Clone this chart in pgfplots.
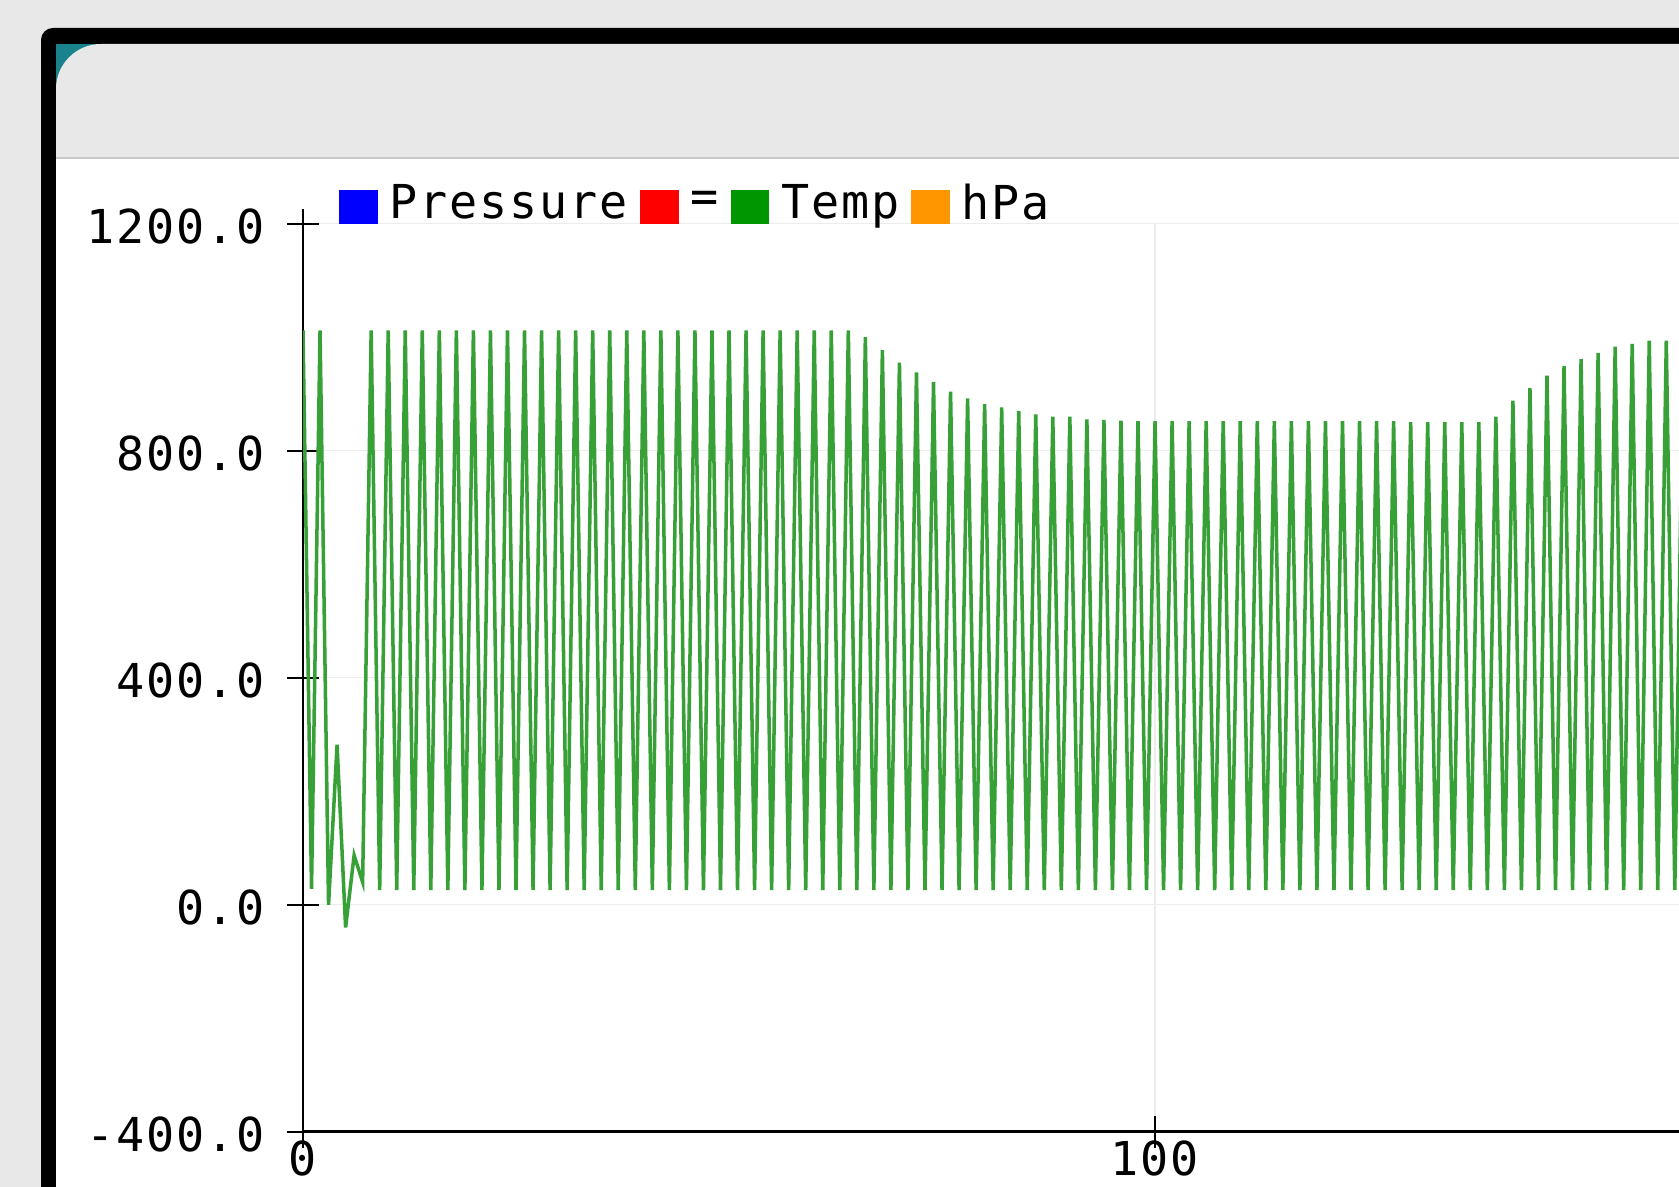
\documentclass[border=0pt]{standalone}
\usepackage{pgfplots}
\pgfplotsset{compat=1.18}
\usepackage{fontspec}
\newfontfamily\monofont[LetterSpace=4]{DejaVu Sans Mono}
\newcommand\plotfont{\monofont\fontsize{13.3}{13.3}\selectfont}

\definecolor{bggray}{RGB}{232,232,232}
\definecolor{barline}{RGB}{200,200,200}
\definecolor{cornerteal}{RGB}{25,130,140}
\definecolor{gridgray}{RGB}{236,236,236}
\definecolor{tempgreen}{RGB}{55,160,55}
\definecolor{legblue}{RGB}{0,0,255}
\definecolor{legred}{RGB}{255,0,0}
\definecolor{leggreen}{RGB}{0,150,0}
\definecolor{legorange}{RGB}{255,150,0}

\begin{document}
\begin{tikzpicture}
\useasboundingbox (0,0) rectangle (16.79,11.87);
% window around the plotter
\fill[bggray] (0,0) rectangle (16.79,11.87);
\fill[black, rounded corners=0.12cm] (0.41,-0.5) -- (0.41,11.59) -- (17.5,11.59) -- (17.5,-0.5) -- cycle;
\fill[cornerteal] (0.56,11.43) rectangle (1.2,10.9);
\fill[bggray] (0.56,10.28) [rounded corners=0.45cm] -- (0.56,11.43) [sharp corners] -- (17.5,11.43) -- (17.5,10.28) -- cycle;
\fill[white] (0.56,-0.5) rectangle (17.5,10.28);
\draw[barline, line width=0.5pt] (0.56,10.29) -- (17.5,10.29);

\begin{axis}[
  at={(3.03cm,0.552cm)}, anchor=south west,
  x=0.0852cm, y=0.00568cm,
  xmin=0, xmax=161.5, ymin=-400, ymax=1200,
  axis x line=bottom, axis y line=left,
  axis line style={-, black, line width=0.8pt},
  y axis line style={shorten >=-0.15cm},
  xtick={0,100}, xticklabels={0,100},
  ytick={-400,0,400,800,1200},
  yticklabels={-400.0,0.0,400.0,800.0,1200.0},
  tick align=center, major tick length=0.32cm,
  tick style={black, line width=0.6pt},
  grid=major, grid style={gridgray, line width=0.4pt},
  ticklabel style={font=\plotfont},
  yticklabel style={xshift=-0.1cm, yshift=-0.03cm},
  xticklabel style={inner sep=0pt, yshift=0.08cm},
  legend columns=-1,
  legend style={draw=none, fill=none, inner sep=0pt, outer sep=0pt,
    at={(0.0265,1.0215)}, anchor=west, font=\plotfont,
    nodes={inner sep=0pt},
    /tikz/every odd column/.append style={column sep=0.12cm},
    /tikz/every even column/.append style={column sep=0.12cm}},
]
\addplot[tempgreen, line width=1pt, forget plot] coordinates {
(0,1012) (1,28) (2,1012) (3,0) (4,282) (5,-40) (6,87) (7,40) (8,1012) (9,26)
(10,1012) (11,26) (12,1012) (13,26) (14,1012) (15,26) (16,1012) (17,26) (18,1012) (19,26)
(20,1012) (21,26) (22,1012) (23,26) (24,1012) (25,26) (26,1012) (27,26) (28,1012) (29,26)
(30,1012) (31,26) (32,1012) (33,26) (34,1012) (35,26) (36,1012) (37,26) (38,1012) (39,26)
(40,1012) (41,26) (42,1012) (43,26) (44,1012) (45,26) (46,1012) (47,26) (48,1012) (49,26)
(50,1012) (51,26) (52,1012) (53,26) (54,1012) (55,26) (56,1012) (57,26) (58,1012) (59,26)
(60,1012) (61,26) (62,1012) (63,26) (64,1012) (65,26) (66,1000) (67,26) (68,977) (69,26)
(70,955) (71,26) (72,938) (73,26) (74,921) (75,26) (76,904) (77,26) (78,892) (79,26)
(80,882) (81,26) (82,876) (83,26) (84,870) (85,26) (86,864) (87,26) (88,860) (89,26)
(90,860) (91,26) (92,855) (93,26) (94,854) (95,26) (96,853) (97,26) (98,852) (99,26)
(100,852) (101,26) (102,852) (103,26) (104,852) (105,26) (106,852) (107,26) (108,852) (109,26)
(110,852) (111,26) (112,852) (113,26) (114,852) (115,26) (116,852) (117,26) (118,852) (119,26)
(120,852) (121,26) (122,852) (123,26) (124,852) (125,26) (126,852) (127,26) (128,852) (129,26)
(130,850) (131,26) (132,850) (133,26) (134,850) (135,26) (136,850) (137,26) (138,850) (139,26)
(140,860) (141,26) (142,888) (143,26) (144,910) (145,26) (146,932) (147,26) (148,949) (149,26)
(150,961) (151,26) (152,972) (153,26) (154,983) (155,26) (156,988) (157,26) (158,994) (159,26)
(160,994) (161,26) (162,996)
};
\addlegendimage{legend image code/.code={\fill[legblue] (0cm,-0.19cm) rectangle (0.37cm,0.13cm);}}
\addlegendentry{Pressure}
\addlegendimage{legend image code/.code={\fill[legred] (0cm,-0.19cm) rectangle (0.37cm,0.13cm);}}
\addlegendentry{=}
\addlegendimage{legend image code/.code={\fill[leggreen] (0cm,-0.19cm) rectangle (0.37cm,0.13cm);}}
\addlegendentry{Temp}
\addlegendimage{legend image code/.code={\fill[legorange] (0cm,-0.19cm) rectangle (0.37cm,0.13cm);}}
\addlegendentry{hPa}
\end{axis}
\end{tikzpicture}
\end{document}
